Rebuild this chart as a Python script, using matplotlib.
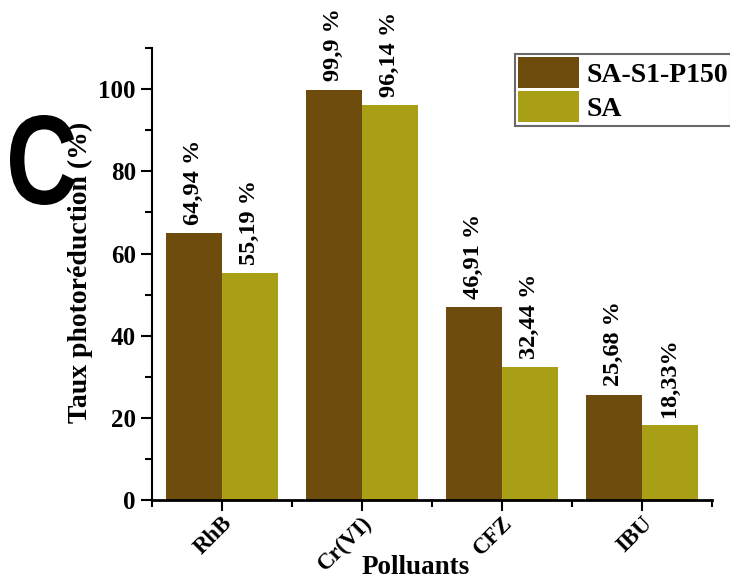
import numpy as np
import matplotlib
matplotlib.use('Agg')
import matplotlib.pyplot as plt
from matplotlib.ticker import MultipleLocator, FixedLocator
from matplotlib.textpath import TextPath
from matplotlib.patches import PathPatch
from matplotlib.font_manager import FontProperties
from matplotlib.transforms import Affine2D

plt.rcParams['font.family'] = ['Liberation Serif', 'DejaVu Serif']
plt.rcParams['font.weight'] = 'bold'

# ---------- 数据 ----------
categories = ['RhB', 'Cr(VI)', 'CFZ', 'IBU']
series_names = ['SA-S1-P150', 'SA']
vals_p150 = [64.94, 99.9, 46.91, 25.68]
vals_sa = [55.19, 96.14, 32.44, 18.33]
labels_p150 = ['64,94 %', '99,9 %', '46,91 %', '25,68 %']
labels_sa = ['55,19 %', '96,14 %', '32,44 %', '18,33%']

COLORS = ['#6D4C0E', '#A89F17']

fig = plt.figure(figsize=(7.3, 5.79), dpi=100)
ax = fig.add_axes([0.208, 0.136, 0.767, 0.781])

x = np.arange(len(categories))
w = 0.4
b1 = ax.bar(x - w / 2, vals_p150, w, color=COLORS[0], label=series_names[0])
b2 = ax.bar(x + w / 2, vals_sa, w, color=COLORS[1], label=series_names[1])

for bars, labs in [(b1, labels_p150), (b2, labels_sa)]:
    for bar, lab in zip(bars, labs):
        ax.text(bar.get_x() + bar.get_width() / 2, bar.get_height() + 2, lab,
                rotation=90, ha='center', va='bottom', fontsize=17.5, fontweight='bold')

ax.set_xlim(-0.5, 3.5)
ax.set_ylim(0, 110)
ax.set_xticks(x)
ax.set_xticklabels(categories, rotation=45, ha='right', rotation_mode='anchor',
                   fontsize=16.5, fontweight='bold')
ax.xaxis.set_minor_locator(FixedLocator(np.arange(-0.5, 4, 1)))
ax.yaxis.set_major_locator(MultipleLocator(20))
ax.yaxis.set_minor_locator(MultipleLocator(10))
for lab in ax.get_yticklabels():
    lab.set_fontsize(18)
    lab.set_fontweight('bold')

ax.tick_params(axis='both', which='major', length=8, width=1.5, direction='out')
ax.tick_params(axis='x', which='major', pad=1)
ax.tick_params(axis='both', which='minor', length=5, width=1.5, direction='out')

ax.spines['top'].set_visible(False)
ax.spines['right'].set_visible(False)
ax.spines['left'].set_linewidth(1.5)
ax.spines['bottom'].set_linewidth(2)

ax.set_ylabel('Taux photoréduction (%)', fontsize=20, fontweight='bold')
ax.yaxis.set_label_coords(-0.105, 0.504)
ax.set_xlabel('Polluants', fontsize=19.5, fontweight='bold')
ax.xaxis.set_label_coords(0.471, -0.12)

leg = ax.legend(loc='upper left', bbox_to_anchor=(0.705, 0.907),
                bbox_transform=fig.transFigure, fontsize=20, frameon=True,
                fancybox=False, edgecolor='#444444', handlelength=2.2,
                handleheight=1.35, borderpad=0.12, labelspacing=0.1,
                handletextpad=0.25, borderaxespad=0)
leg.get_frame().set_linewidth(1.5)

# 大写字母 C（窄体）
tp = TextPath((0, 0), 'C', size=120, prop=FontProperties(family='Liberation Sans', weight='bold'))
bb = tp.get_extents()
sx, sy = 65 / bb.width, 90 / bb.height
trans = Affine2D().translate(-bb.x0, -bb.y0).scale(sx, sy).translate(10, 579 - 205)
fig.patches.append(PathPatch(trans.transform_path(tp), color='black', lw=0,
                             transform=None, figure=fig))

fig.savefig('out.png', dpi=100)
